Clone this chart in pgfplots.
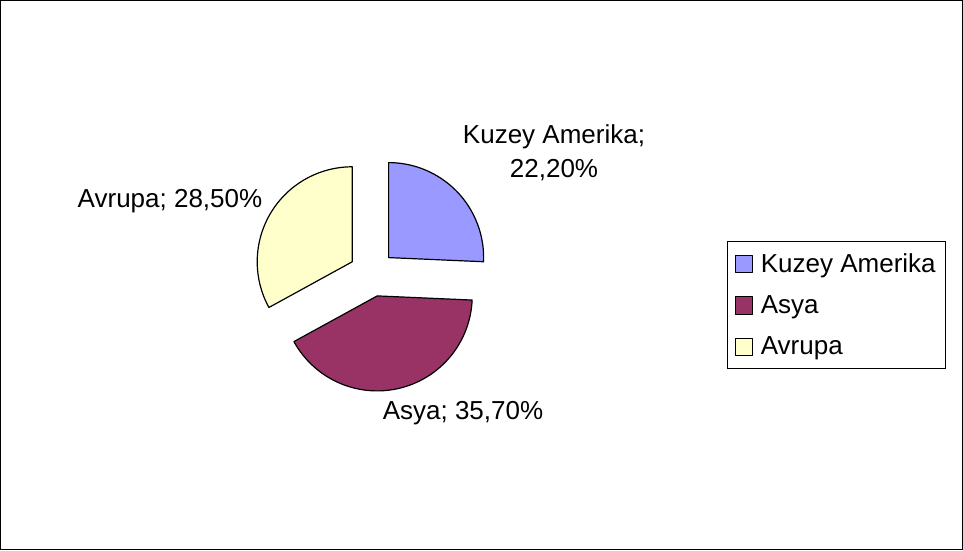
\documentclass[border=0pt]{standalone}
\usepackage{pgfplots}
\pgfplotsset{compat=1.18}
\usepackage{pgfplotstable}
\usepackage{fontspec}
\setmainfont{Liberation Sans}
\definecolor{kuzey}{HTML}{9999FF}
\definecolor{asya}{HTML}{993366}
\definecolor{avrupa}{HTML}{FFFFCC}
\pgfplotstableread{
region value
Kuzey 22.2
Asya 35.7
Avrupa 28.5
}\piedata
\pgfplotstablegetelem{0}{value}\of\piedata\edef\vA{\pgfplotsretval}
\pgfplotstablegetelem{1}{value}\of\piedata\edef\vB{\pgfplotsretval}
\pgfplotstablegetelem{2}{value}\of\piedata\edef\vC{\pgfplotsretval}
\pgfmathsetmacro\tot{\vA+\vB+\vC}
\pgfmathsetmacro\sA{90}
\pgfmathsetmacro\eA{\sA-360*\vA/\tot}
\pgfmathsetmacro\eB{\eA-360*\vB/\tot}
\pgfmathsetmacro\eC{\eB-360*\vC/\tot}
\def\cx{372}\def\cy{273.5}\def\R{95}\def\ex{23}
\pgfmathsetmacro\mA{(\sA+\eA)/2}
\pgfmathsetmacro\mB{(\eA+\eB)/2}
\pgfmathsetmacro\mC{(\eB+\eC)/2}
\pgfmathsetmacro\xA{\cx+\ex*cos(\mA)}\pgfmathsetmacro\yA{\cy-\ex*sin(\mA)}
\pgfmathsetmacro\xB{\cx+\ex*cos(\mB)}\pgfmathsetmacro\yB{\cy-\ex*sin(\mB)}
\pgfmathsetmacro\xC{\cx+\ex*cos(\mC)}\pgfmathsetmacro\yC{\cy-\ex*sin(\mC)}
\begin{document}
\begin{tikzpicture}
\begin{axis}[
  width=722.25pt, height=412.5pt, scale only axis,
  xmin=0, xmax=963, ymin=0, ymax=550, y dir=reverse,
  hide axis, clip=false,
  legend style={at={(axis cs:727,241)}, anchor=north west, draw=black, line width=0.75pt,
    font=\fontsize{19.5}{22}\selectfont, inner xsep=5.25pt, inner ysep=7pt, row sep=12pt,
    cells={anchor=west}, /tikz/every odd column/.append style={column sep=4pt}},
  legend image code/.code={\draw[#1, line width=0.75pt] (0pt,-6.5pt) rectangle (13pt,6.5pt);},
]
\draw[line width=0.75pt] (axis cs:0.5,0.5) rectangle (axis cs:962.5,549.5);
\addplot[fill=kuzey, draw=black, line width=0.9pt, line join=round, domain=\eA:\sA, samples=100, variable=\t]
  ({\xA+\R*cos(\t)},{\yA-\R*sin(\t)}) -- (axis cs:\xA,\yA) -- cycle;
\addlegendentry{Kuzey Amerika}
\addplot[fill=asya, draw=black, line width=0.9pt, line join=round, domain=\eB:\eA, samples=100, variable=\t]
  ({\xB+\R*cos(\t)},{\yB-\R*sin(\t)}) -- (axis cs:\xB,\yB) -- cycle;
\addlegendentry{Asya}
\addplot[fill=avrupa, draw=black, line width=0.9pt, line join=round, domain=\eC:\eB, samples=100, variable=\t]
  ({\xC+\R*cos(\t)},{\yC-\R*sin(\t)}) -- (axis cs:\xC,\yC) -- cycle;
\addlegendentry{Avrupa}
\node[font=\fontsize{19.5}{25.5}\selectfont, align=center] at (axis cs:554,153) {Kuzey Amerika;\\22,20\%};
\node[font=\fontsize{19.5}{23}\selectfont] at (axis cs:170,201) {Avrupa; 28,50\%};
\node[font=\fontsize{19.5}{23}\selectfont] at (axis cs:463,413) {Asya; 35,70\%};
\end{axis}
\end{tikzpicture}
\end{document}
